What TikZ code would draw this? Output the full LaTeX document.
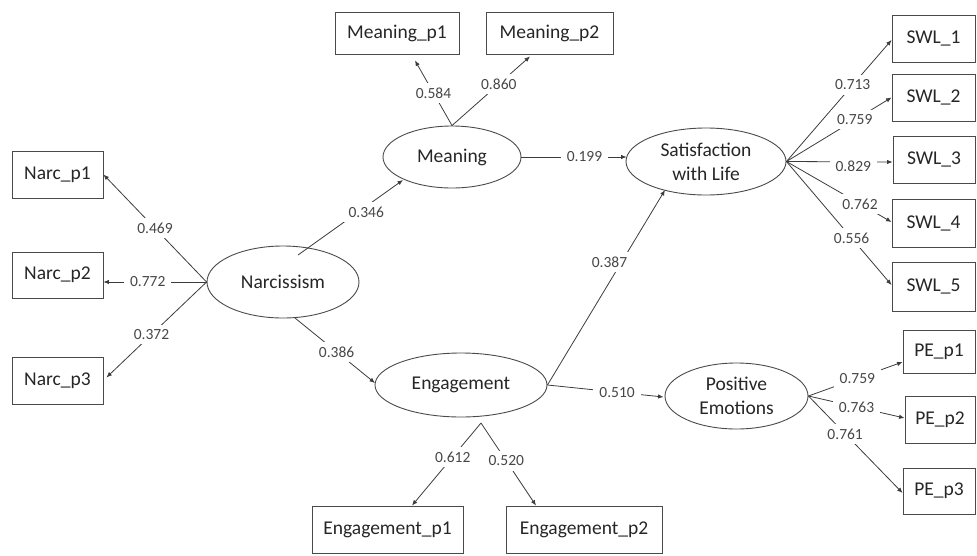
\documentclass[tikz,border=0pt]{standalone}
\usepackage{fontspec}
\setmainfont{Carlito}
\usetikzlibrary{arrows.meta,calc,shapes.geometric}
\definecolor{lc}{HTML}{3C3C3C}
\definecolor{nc}{HTML}{4A4A4A}
\tikzset{
  box/.style={draw=nc, line width=0.9pt, rectangle, inner sep=0pt, font=\fontsize{19.5}{24}\selectfont, text=black!85},
  lat/.style={draw=nc, line width=0.9pt, ellipse, inner sep=0pt, font=\fontsize{19.5}{24}\selectfont, text=black!85, align=center},
  conn/.style={draw=lc, line width=0.8pt, -{Latex[length=5.5pt,width=4.5pt]}},
  lbl/.style={fill=white, inner xsep=6pt, inner ysep=4.5pt, font=\fontsize{15.5}{18}\selectfont, text=black!72}
}
\begin{document}
\begin{tikzpicture}[x=1pt,y=-1pt]
\useasboundingbox (0,0) rectangle (977,555);
% observed indicators
\node[box, minimum width=91pt, minimum height=47pt] (np1) at (57.5,174.5) {Narc\_p1};
\node[box, minimum width=91pt, minimum height=46pt] (np2) at (57.5,275) {Narc\_p2};
\node[box, minimum width=91pt, minimum height=47pt] (np3) at (57.5,380.5) {Narc\_p3};
\node[box, minimum width=124pt, minimum height=42pt] (mp1) at (397,33) {Meaning\_p1};
\node[box, minimum width=127pt, minimum height=42pt] (mp2) at (549.5,33) {Meaning\_p2};
\node[box, minimum width=83pt, minimum height=47pt] (s1) at (933.5,38.5) {SWL\_1};
\node[box, minimum width=83pt, minimum height=47pt] (s2) at (933.5,97.5) {SWL\_2};
\node[box, minimum width=82pt, minimum height=47pt] (s3) at (934,159.5) {SWL\_3};
\node[box, minimum width=83pt, minimum height=48pt] (s4) at (933.5,223) {SWL\_4};
\node[box, minimum width=83pt, minimum height=49pt] (s5) at (933.5,286.5) {SWL\_5};
\node[box, minimum width=151pt, minimum height=47pt] (e1) at (387.5,529.5) {Engagement\_p1};
\node[box, minimum width=156pt, minimum height=47pt] (e2) at (584,529.5) {Engagement\_p2};
\node[box, minimum width=72pt, minimum height=43pt] (pe1) at (939,351.5) {PE\_p1};
\node[box, minimum width=70pt, minimum height=47pt] (pe2) at (940,419.5) {PE\_p2};
\node[box, minimum width=72pt, minimum height=46pt] (pe3) at (939,491) {PE\_p3};
% latent variables
\node[lat, minimum width=152pt, minimum height=72pt] (narc) at (283,282) {Narcissism};
\node[lat, minimum width=138pt, minimum height=62pt] (mean) at (452,157) {Meaning};
\node[lat, minimum width=160pt, minimum height=67pt] (swl) at (706,161.5) {Satisfaction\\with Life};
\node[lat, minimum width=172pt, minimum height=64pt] (eng) at (461,385) {Engagement};
\node[lat, minimum width=143pt, minimum height=66pt] (pe) at (736.5,396) {Positive\\Emotions};
% helper coordinates
\coordinate (engapex) at ($(eng.center)+(20,38)$);
% Narcissism loadings
\draw[conn] (narc.west) -- node[lbl, pos=0.5] {0.469} (np1.east);
\draw[conn] (narc.west) -- node[lbl, pos=0.57] {0.772} (np2.east |- narc.west);
\draw[conn] (narc.west) -- node[lbl, pos=0.55] {0.372} ($(np3.east)+(3,-3)$);
% Meaning loadings
\draw[conn] (mean.north) -- node[lbl, pos=0.5] {0.584} ($(mp1.south)+(18,6)$);
\draw[conn] (mean.north) -- node[lbl, pos=0.6] {0.860} ($(mp2.south)+(-19.5,2)$);
% SWL loadings
\draw[conn] (swl.east) -- node[lbl, pos=0.63] {0.713} ($(s1.west)+(0,1.5)$);
\draw[conn] (swl.east) -- node[lbl, pos=0.65] {0.759} (s2.west);
\draw[conn] (swl.east) -- node[lbl, pos=0.63, yshift=-4pt] {0.829} ($(s3.west)+(0,2.5)$);
\draw[conn] (swl.east) -- node[lbl, pos=0.70] {0.762} ($(s4.west)+(0,-1)$);
\draw[conn] (swl.east) -- node[lbl, pos=0.62] {0.556} ($(s5.west)+(0,-1.5)$);
% Engagement loadings
\draw[conn] (engapex) -- node[lbl, pos=0.41] {0.612} ($(e1.north)+(24.5,0)$);
\draw[conn] (engapex) -- node[lbl, pos=0.46] {0.520} ($(e2.north)+(-48,0)$);
% PE loadings
\draw[conn] (pe.east) -- node[lbl, pos=0.52] {0.759} ($(pe1.west)+(0,10.5)$);
\draw[conn] (pe.east) -- node[lbl, pos=0.5] {0.763} ($(pe2.west)+(0,-1.5)$);
\draw[conn] (pe.east) -- node[lbl, pos=0.39] {0.761} ($(pe3.west)+(0,2)$);
% structural paths
\draw[conn] ($(narc.center)+(15,-27)$) -- node[lbl, pos=0.65, yshift=-6pt] {0.346} ($(mean.center)+(-49,23)$);
\draw[conn] ($(narc.center)+(12,36)$) -- node[lbl, pos=0.52] {0.386} ($(eng.center)+(-86,-2)$);
\draw[conn] (mean.east) -- node[lbl, pos=0.6] {0.199} ($(mean.east -| swl.west)+(1,0)$);
\draw[conn] (eng.east) -- node[lbl, pos=0.63, xshift=-12pt] {0.387} ($(swl.center)+(-41,28.5)$);
\draw[conn] (eng.east) -- node[lbl, pos=0.6] {0.510} ($(pe.west)+(-1,1)$);
\end{tikzpicture}
\end{document}
